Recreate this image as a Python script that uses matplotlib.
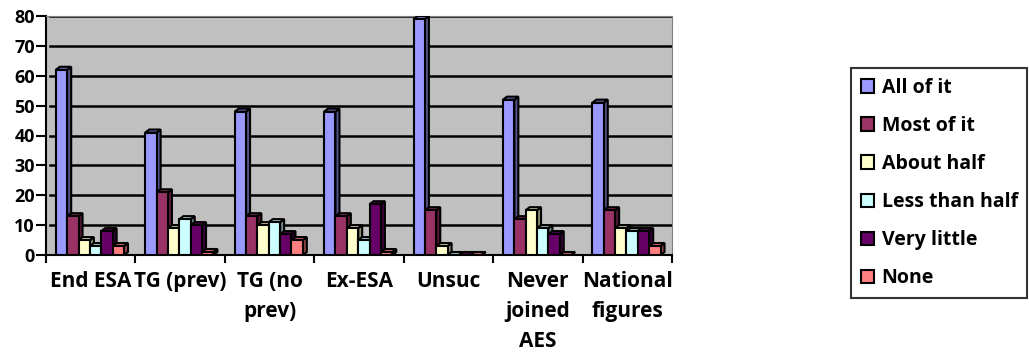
import matplotlib
matplotlib.use("Agg")
import matplotlib.pyplot as plt
from matplotlib.patches import Polygon
import numpy as np

categories = ["End ESA", "TG (prev)", "TG (no\nprev)", "Ex-ESA", "Unsuc", "Never\njoined\nAES", "National\nfigures"]
series_names = ["All of it", "Most of it", "About half", "Less than half", "Very little", "None"]
all_of_it      = [62, 41, 48, 48, 79, 52, 51]
most_of_it     = [13, 21, 13, 13, 15, 12, 15]
about_half     = [5, 9, 10, 9, 3, 15, 9]
less_than_half = [3, 12, 11, 5, 0, 9, 8]
very_little    = [8, 10, 7, 17, 0, 7, 8]
none_          = [3, 1, 5, 1, 0, 0, 3]
series = [all_of_it, most_of_it, about_half, less_than_half, very_little, none_]
colors = ["#9999FF", "#993366", "#FFFFCC", "#CCFFFF", "#660066", "#FF8080"]

def shade(c, f):
    c = np.array(matplotlib.colors.to_rgb(c))
    return tuple(np.clip(c * f, 0, 1))

plt.rcParams['font.family'] = ['Open Sans', 'DejaVu Sans']
plt.rcParams['font.weight'] = 'bold'
FS_Y = 13
FS_X = 15
FS_L = 14

W, H = 1029, 356
fig = plt.figure(figsize=(W / 100, H / 100), dpi=100)
L, R, T, B = 46, 672, 16, 255
ax = fig.add_axes([L / W, 1 - B / H, (R - L) / W, (B - T) / H])
ax.set_xlim(-0.5, len(categories) - 0.5)
ax.set_ylim(0, 80)
ax.set_facecolor("#C0C0C0")

px_x = (len(categories)) / (R - L)
px_y = 80 / (B - T)
dx, dy = 4 * px_x, 3 * px_y

for y in range(10, 81, 10):
    ax.plot([-0.5 + dx, len(categories) - 0.5], [y, y], color="black", lw=1.8, zorder=1)

bw = 0.127
start = 0.11
x = np.arange(len(categories))
for k, (vals, col) in enumerate(zip(series, colors)):
    lefts = x - 0.5 + start + k * bw
    for xl, v in zip(lefts, vals):
        xr = xl + bw
        side = Polygon([(xr, 0), (xr + dx, dy), (xr + dx, v + dy), (xr, v)],
                       closed=True, facecolor=shade(col, 0.55), edgecolor="black", lw=1.5, zorder=3)
        top = Polygon([(xl, v), (xr, v), (xr + dx, v + dy), (xl + dx, v + dy)],
                      closed=True, facecolor=shade(col, 0.8), edgecolor="black", lw=1.5, zorder=3)
        ax.add_patch(side)
        ax.add_patch(top)
    ax.bar(lefts, vals, width=bw, align="edge", color=col, edgecolor="black",
           linewidth=1.5, zorder=4, label=series_names[k])

for s in ["top", "right"]:
    ax.spines[s].set_color("#808080")
ax.spines["left"].set_color("black")
ax.spines["bottom"].set_color("black")
ax.spines["left"].set_linewidth(1.5)
ax.spines["bottom"].set_linewidth(1.5)

ax.set_yticks(range(0, 81, 10))
ax.tick_params(axis="y", labelsize=FS_Y, length=7, width=1.5, pad=1)
ax.set_xticks(np.arange(-0.5, len(categories), 1.0))
ax.set_xticklabels([])
ax.tick_params(axis="x", length=6, width=1.5, direction="out")
for i, c in enumerate(categories):
    ax.text(i, -5.3, c, ha="center", va="top", fontsize=FS_X, fontweight="bold",
            linespacing=1.58, clip_on=False)
for lab in ax.get_yticklabels():
    lab.set_fontweight("bold")

leg = fig.legend(loc="upper left", bbox_to_anchor=(851 / W, 1 - 68 / H), fontsize=FS_L,
                 frameon=True, fancybox=False, edgecolor="black", handlelength=0.67,
                 handleheight=0.67, handletextpad=0.4, labelspacing=0.93, borderpad=0.5,
                 borderaxespad=0)
leg.get_frame().set_linewidth(1.5)
for t in leg.get_texts():
    t.set_fontweight("bold")
for h in leg.legend_handles:
    h.set_linewidth(1.5)

fig.savefig("out.png", dpi=100)
